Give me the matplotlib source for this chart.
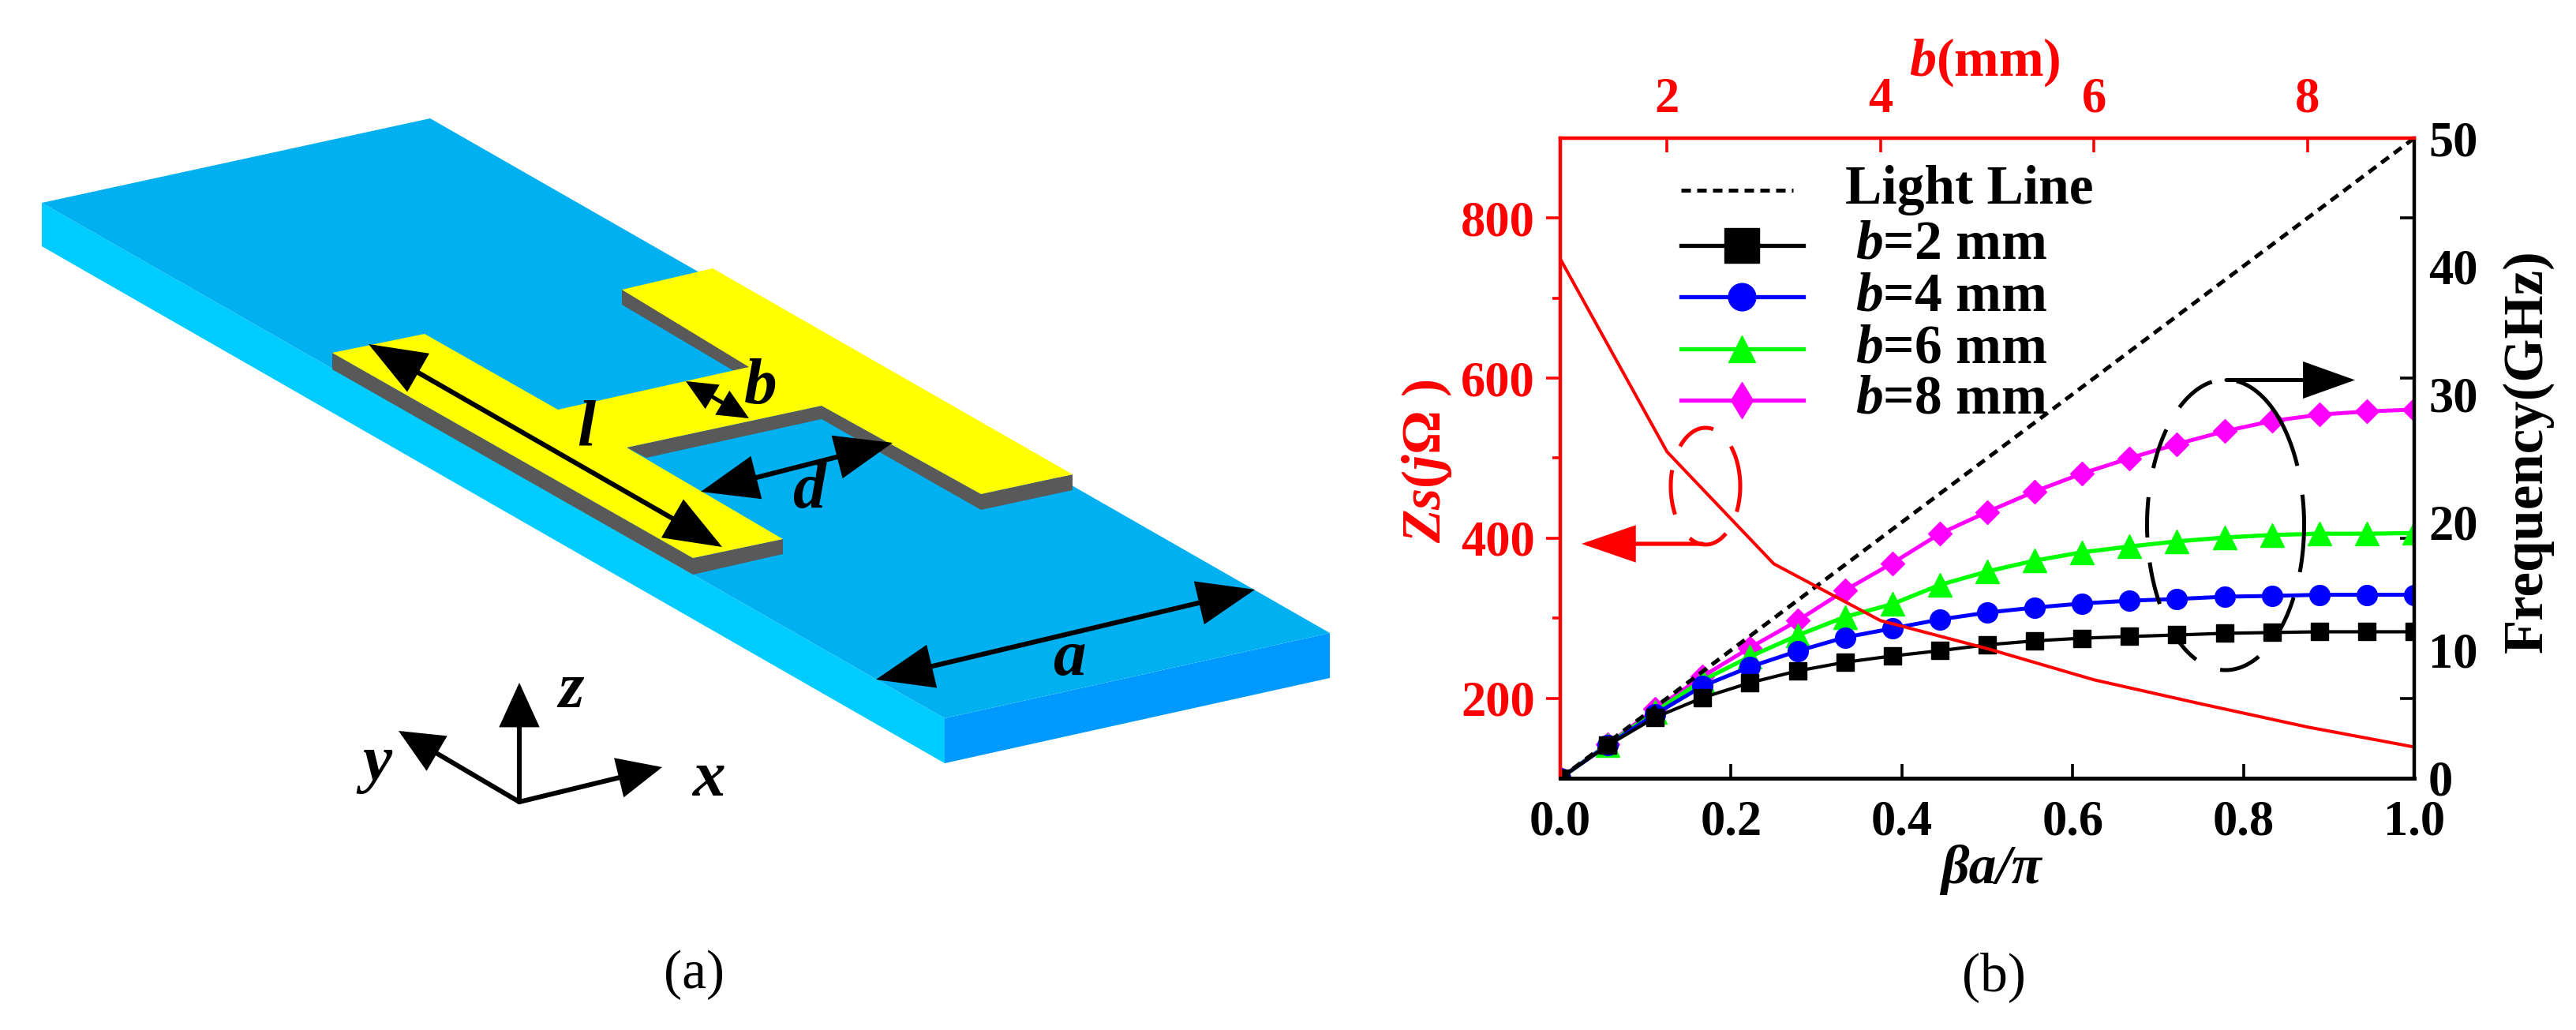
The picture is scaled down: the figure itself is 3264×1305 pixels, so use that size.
# -*- coding: utf-8 -*-
"""Unit cell sketch (a) and dispersion / impedance curves (b)."""
import numpy as np
import matplotlib
matplotlib.use('Agg')
import matplotlib.pyplot as plt
from matplotlib.lines import Line2D
from matplotlib.patches import FancyArrowPatch, Polygon

plt.rcParams['font.family'] = ['Liberation Serif', 'DejaVu Serif']
plt.rcParams['mathtext.fontset'] = 'custom'
plt.rcParams['mathtext.rm'] = 'Liberation Serif:bold'
plt.rcParams['mathtext.it'] = 'Liberation Serif:italic:bold'
plt.rcParams['mathtext.bf'] = 'Liberation Serif:bold'

W, H = 3264, 1305
RED = '#ff0000'

# ---- curves ----
beta = [k / 18 for k in range(19)]
f_b2 = [0, 2.56, 4.75, 6.29, 7.46, 8.38, 9.06, 9.55, 9.96, 10.42, 10.73, 10.94,
        11.07, 11.19, 11.32, 11.38, 11.44, 11.44, 11.44]
f_b4 = [0, 2.58, 5.0, 7.2, 8.7, 9.93, 11.0, 11.7, 12.4, 12.94, 13.33, 13.65,
        13.87, 14.0, 14.18, 14.24, 14.33, 14.33, 14.33]
f_b6 = [0, 2.62, 5.2, 7.65, 9.5, 11.15, 12.6, 13.6, 15.1, 16.15, 17.0, 17.65,
        18.1, 18.5, 18.8, 19.0, 19.1, 19.1, 19.15]
f_b8 = [0, 2.65, 5.4, 7.95, 10.2, 12.3, 14.67, 16.8, 19.1, 20.8, 22.4, 23.8,
        25.0, 26.1, 27.1, 27.9, 28.4, 28.65, 28.8]
light_x = [0, 1]
light_y = [0, 50]
b_mm = [1, 2, 3, 4, 5, 6, 7, 8, 9]
zs = [749, 508, 368, 297, 262, 223, 193, 164, 139]

# ---- sketch outlines, image pixels ----
sub_top = [(53, 257), (545, 150), (1685, 802), (1197, 910)]
sub_left = [(53, 257), (1197, 910), (1197, 967), (53, 312)]
sub_front = [(1197, 910), (1685, 802), (1685, 859), (1197, 967)]
metal_top = [(421, 447), (538, 423), (707, 519), (949, 465), (788, 367), (903, 340),
             (1359, 601), (1243, 626), (1041, 514), (794, 567), (992, 683), (878, 707)]
metal_side_a = [(421, 447), (878, 707), (992, 683), (992, 702), (878, 728), (421, 468)]
metal_side_b = [(794, 567), (1041, 514), (1243, 626), (1359, 601), (1359, 621),
                (1243, 646), (1041, 531), (819, 580)]
metal_side_c = [(788, 367), (955, 465), (930, 470), (788, 386)]
dim_arrows = [((467, 436), (915, 693)), ((888, 623), (1131, 561)),
              ((869, 483), (949, 530)), ((1110, 861), (1590, 747))]
axis_origin = (658, 1016)
axis_tips = [(658, 865), (505, 926), (839, 972)]
sketch_labels = [('l', 743, 544), ('d', 1025, 624), ('b', 964, 491), ('a', 1355, 835),
                 ('z', 724, 877), ('y', 478, 968), ('x', 898, 989)]

# ---- dashed loops around the curves: centre, half axes, arc pieces (deg) ----
red_loop = (2161, 616, 44, 74)
red_arcs = [(-43, 26), (151, 196), (223, 283), (54, 117)]
black_loop = (2820, 665, 99.5, 184)
black_arcs = [(234, 260), (-82, -24), (203, 221), (175, 191), (147, 165),
              (-12, 19), (30, 47), (112, 129), (65, 94)]


def head(length, half_width):
    return f'-|>,head_length={length * 0.72},head_width={half_width * 0.72}'


def arc(ax, loop, t1, t2, color, lw):
    cx, cy, a, b = loop
    t = np.radians(np.linspace(t1, t2, 30))
    ax.plot(cx + a * np.cos(t), cy + b * np.sin(t), color=color, lw=lw,
            solid_capstyle='butt')


def arrow(ax, start, end, color='black', lw=4.4, style=None):
    ax.add_patch(FancyArrowPatch(start, end, arrowstyle=style or head(36, 14),
                                 mutation_scale=1, shrinkA=0, shrinkB=0,
                                 color=color, lw=lw, joinstyle='miter'))


fig = plt.figure(figsize=(W / 100, H / 100), dpi=100)

# ================================================================
#  (a) sketch, drawn in image pixels
# ================================================================
sk = fig.add_axes([0, 0, 1, 1])
sk.set_xlim(0, W)
sk.set_ylim(H, 0)
sk.axis('off')

sk.add_patch(Polygon(sub_left, fc='#00ccff', ec='none'))
sk.add_patch(Polygon(sub_front, fc='#0099ff', ec='none'))
sk.add_patch(Polygon(sub_top, fc='#00b0f0', ec='none'))
for side in (metal_side_a, metal_side_b, metal_side_c):
    sk.add_patch(Polygon(side, fc='#595959', ec='none'))
sk.add_patch(Polygon(metal_top, fc='#ffff00', ec='none'))

for i, (p0, p1) in enumerate(dim_arrows):
    if i == 2:
        style = '<|-|>,head_length=%.1f,head_width=%.1f' % (22, 10)
        arrow(sk, p0, p1, lw=3.6, style=style)
    else:
        style = '<|-|>,head_length=%.1f,head_width=%.1f' % (44, 17)
        arrow(sk, p0, p1, style=style)
for tip in axis_tips:
    arrow(sk, axis_origin, tip, style=head(46, 21))
for s, x, y in sketch_labels:
    sk.text(x, y, s, fontsize=60, style='italic', fontweight='bold',
            ha='center', va='center')

sk.text(880, 1235, '(a)', fontsize=50, ha='center', va='center')
sk.text(2526, 1238, '(b)', fontsize=50, ha='center', va='center')

# ================================================================
#  (b) curves: left Zs, top b, right frequency, bottom beta
# ================================================================
x0, x1, y_top, y_bot = 1977, 3059, 175, 986
rect = [x0 / W, 1 - y_bot / H, (x1 - x0) / W, (y_bot - y_top) / H]


def frac_x(px):
    return (px - x0) / (x1 - x0)


def frac_y(py):
    return (y_bot - py) / (y_bot - y_top)


ax = fig.add_axes(rect, facecolor='none')
ax.set_xlim(0, 1)
ax.set_ylim(0, 50)

line_b8, = ax.plot(beta, f_b8, '-D', color='#ff00ff', lw=3.6, ms=15.5)
line_b6, = ax.plot(beta, f_b6, '-^', color='#00ff00', lw=3.8, ms=21)
line_b4, = ax.plot(beta, f_b4, '-o', color='#0000ff', lw=3.6, ms=18.5)
line_b2, = ax.plot(beta, f_b2, '-s', color='black', lw=3, ms=16.5)
ax.plot(light_x, light_y, color='black', lw=3.6, ls=(0, (2.4, 1.6)))

ax.set_xticks([0.0, 0.2, 0.4, 0.6, 0.8, 1.0])
ax.set_xticklabels(['0.0', '0.2', '0.4', '0.6', '0.8', '1.0'],
                   fontsize=45, fontweight='bold')
ax.tick_params(axis='x', direction='in', length=13, width=2.6, pad=20)
ax.set_xlabel('βa/π', fontsize=50, fontweight='bold', fontstyle='italic', va='center')
ax.xaxis.set_label_coords(frac_x(2523), frac_y(1102))

zax = ax.twinx()
zax.set_ylim(100, 900)
zax.yaxis.tick_left()
zax.set_yticks([200, 400, 600, 800])
zax.set_yticklabels(['200', '400', '600', '800'], fontsize=45, fontweight='bold', color=RED)
zax.set_yticks([300, 500, 700], minor=True)
zax.tick_params(axis='y', which='major', direction='out', length=13, width=2.6,
                color=RED, pad=10)
zax.tick_params(axis='y', which='minor', direction='out', length=7, width=2.6, color=RED)
zax.set_ylabel(r'$\mathit{Zs}$($\mathit{j}$Ω )', fontsize=50, fontweight='bold', color=RED)
zax.yaxis.set_label_position('left')
zax.yaxis.label.set_va('center')  # set_label_position resets it
zax.yaxis.set_label_coords(frac_x(1808), frac_y(584))

# frequency labels sit on the right, its tick marks belong to the left scale
ax.yaxis.tick_right()
ax.set_yticks([0, 10, 20, 30, 40, 50])
ax.set_yticklabels(['0', '10', '20', '30', '40', '50'], fontsize=45, fontweight='bold')
ax.set_yticks([6.25, 18.75, 31.25, 43.75], minor=True)
ax.tick_params(axis='y', which='major', length=0, pad=13)
ax.tick_params(axis='y', which='minor', direction='in', length=13, width=2.6)
ax.set_ylabel('Frequency(GHz)', fontsize=51, fontweight='bold')
ax.yaxis.set_label_position('right')
ax.yaxis.label.set_va('center')
ax.yaxis.set_label_coords(frac_x(3203), frac_y(572))

bax = zax.twiny()
bax.set_xlim(1, 9)
bax.plot(b_mm, zs, color=RED, lw=2.9)
bax.set_xticks([2, 4, 6, 8])
bax.set_xticklabels(['2', '4', '6', '8'], fontsize=45, fontweight='bold', color=RED)
bax.tick_params(axis='x', direction='in', length=13, width=2.6, color=RED, pad=14)
bax.set_xlabel(r'$\mathit{b}$(mm)', fontsize=49, fontweight='bold', color=RED, va='center')
bax.xaxis.set_label_coords(frac_x(2515), frac_y(79))

for a_ in (ax, zax, bax):
    for name, spine in a_.spines.items():
        spine.set_linewidth(3.6 if name == 'bottom' else 3)
        spine.set_color(RED if name in ('left', 'top') else 'black')
        spine.set_zorder(5)

# loops and arrows go above the plot, again in image pixels
over = fig.add_axes([0, 0, 1, 1], facecolor='none')
over.set_xlim(0, W)
over.set_ylim(H, 0)
over.axis('off')
for t1, t2 in red_arcs:
    arc(over, red_loop, t1, t2, RED, 3.6)
for t1, t2 in black_arcs:
    arc(over, black_loop, t1, t2, 'black', 3.6)
arrow(over, (2157, 689), (2004, 689), color=RED, lw=3.8, style=head(58, 20))
arrow(over, (2821, 481.5), (2984, 481.5), lw=3.6, style=head(56, 20))

# legend rows
rows = [(241, 'Light Line', 2495),
        (311, r'$\mathit{b}$=2 mm', 2473),
        (376, r'$\mathit{b}$=4 mm', 2473),
        (442, r'$\mathit{b}$=6 mm', 2473),
        (507, r'$\mathit{b}$=8 mm', 2473)]
for y, label, xc in rows:
    over.text(xc, y, label, fontsize=50, fontweight='bold', ha='center', va='center')
over.add_line(Line2D([2130, 2272], [rows[0][0]] * 2, color='black', lw=3.6,
                     ls=(0, (2.4, 1.6))))
legend_lines = [(line_b2, 's', 31), (line_b4, 'o', 25), (line_b6, '^', 25), (line_b8, 'd', 23)]
for (y, _, _), (src, marker, size) in zip(rows[1:], legend_lines):
    over.add_line(Line2D([2130, 2285], [y, y], color=src.get_color(), lw=3.8))
    over.add_line(Line2D([2207], [y], color=src.get_color(), marker=marker, ms=size, ls='none'))

fig.savefig('out.png', dpi=100)
